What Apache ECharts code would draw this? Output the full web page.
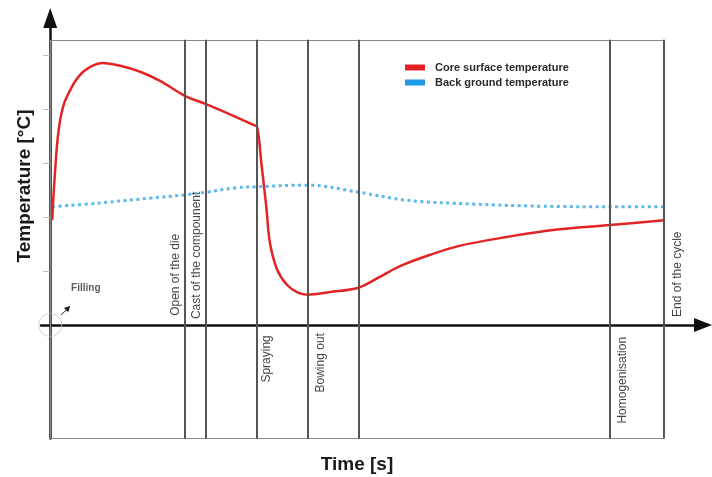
<!DOCTYPE html>
<html>
<head>
<meta charset="utf-8">
<script src="https://cdn.jsdelivr.net/npm/echarts@6/dist/echarts.min.js"></script>
<style>
  html, body { margin: 0; padding: 0; background: #fff; }
  #chart { width: 712px; height: 477px; }
</style>
</head>
<body>
<div id="chart"></div>
<script>
// core surface temperature (arbitrary units, 0 = time axis)
const coreTime = [0.33, 0.49, 0.81, 1.14, 1.63, 2.28, 3.26, 4.23, 5.37, 6.84, 8.47, 11.4, 14.66, 17.9,
  22.0, 25.4, 30.3, 33.0, 33.7, 34.4, 35.2, 35.8, 37.0, 38.6, 40.2, 41.9, 45.6, 50.2, 53.7, 57.0, 61.9,
  66.8, 74.4, 81.9, 91.2, 100]
const coreTemp = [1.94, 2.31, 2.87, 3.37, 3.80, 4.11, 4.35, 4.54, 4.69, 4.80, 4.85, 4.80, 4.69, 4.52,
  4.24, 4.09, 3.85, 3.71, 3.67, 3.00, 2.19, 1.52, 1.02, 0.74, 0.61, 0.56, 0.61, 0.69, 0.89, 1.09, 1.30,
  1.47, 1.63, 1.76, 1.85, 1.94]

// back ground temperature
const backTime = [0.33, 8.1, 16.3, 22.0, 25.4, 30.3, 33.7, 41.9, 50.2, 58.1, 68.9, 79.8, 91.7, 100]
const backTemp = [2.19, 2.26, 2.35, 2.41, 2.46, 2.54, 2.56, 2.59, 2.46, 2.31, 2.24, 2.20, 2.19, 2.19]

// cycle events (vertical lines)
const eventTimes = [22.0, 25.4, 33.6, 41.9, 50.2, 91.2, 100]
const eventNames = ['Open of the die', 'Cast of the compounent', 'Spraying', 'Bowing out', 'Homogenisation', 'End of the cycle']
const eventLabelTime = [20.5, 23.9, 35.2, 44.0, 93.2, 102.3]
const eventLabelTemp = [0.17, 0.11, -0.19, -0.15, -0.22, 0.15]

const yTicks = [1, 2, 3, 4, 5]
const boxTop = 5.28
const boxBottom = -2.1
const boxEnd = 100

const font = '"Liberation Sans", Arial, sans-serif'
const red = '#e32424'
const blue = '#1e9be6'

const chart = echarts.init(document.getElementById('chart'))

const eventLines = eventTimes.map(t => [
  { coord: [t, boxBottom] },
  { coord: [t, boxTop] }
])

chart.setOption({
  animation: false,
  textStyle: { fontFamily: font },
  grid: { left: 41, right: 9, top: 18, bottom: 38.6 },
  legend: {
    orient: 'vertical',
    left: 400,
    top: 57,
    icon: 'rect',
    itemWidth: 20,
    itemHeight: 6,
    itemGap: 4,
    textStyle: { fontFamily: font, fontSize: 11, fontWeight: 'bold', color: '#2a2a2a', padding: [0, 0, 0, 5] },
    data: [
      { name: 'Core surface temperature', itemStyle: { color: red } },
      { name: 'Back ground temperature', itemStyle: { color: blue } }
    ]
  },
  xAxis: {
    type: 'value',
    min: -1.5,
    max: 106.35,
    splitLine: { show: false },
    axisLabel: { show: false },
    axisTick: { show: false },
    axisLine: {
      onZero: true,
      symbol: ['none', 'triangle'],
      symbolSize: [14, 18],
      lineStyle: { color: '#111', width: 2.5 }
    }
  },
  yAxis: {
    type: 'value',
    min: boxBottom,
    max: 5.685,
    splitLine: { show: false },
    axisLabel: { show: false },
    axisTick: {
      show: true,
      customValues: yTicks,
      length: 7,
      lineStyle: { color: '#bbb', width: 1 }
    },
    axisLine: {
      onZero: true,
      symbol: ['none', 'triangle'],
      symbolSize: [14, 20],
      lineStyle: { color: '#111', width: 2.5 }
    }
  },
  graphic: [
    {
      type: 'text',
      x: 25,
      y: 186,
      rotation: Math.PI / 2,
      style: { text: 'Temperature [°C]', font: 'bold 19px ' + font, fill: '#1a1a1a', align: 'center', verticalAlign: 'middle' }
    },
    {
      type: 'text',
      x: 357,
      y: 465,
      style: { text: 'Time [s]', font: 'bold 19px ' + font, fill: '#1a1a1a', align: 'center', verticalAlign: 'middle' }
    }
  ],
  series: [
    {
      name: 'frame',
      type: 'scatter',
      silent: true,
      symbolSize: 1,
      itemStyle: { color: 'rgba(0,0,0,0)' },
      data: eventLabelTime.map((t, i) => ({
        name: eventNames[i],
        value: [t, eventLabelTemp[i]],
        label: { align: eventLabelTemp[i] > 0 ? 'left' : 'right' }
      })),
      label: {
        show: true,
        position: 'inside',
        rotate: 90,
        verticalAlign: 'middle',
        formatter: p => p.name,
        fontFamily: font,
        fontSize: 12,
        color: '#111'
      },
      markLine: {
        silent: true,
        symbol: 'none',
        label: { show: false },
        lineStyle: { type: 'solid' },
        data: [
          [{ coord: [0, boxTop], lineStyle: { color: '#888', width: 1.2 } }, { coord: [boxEnd, boxTop] }],
          [{ coord: [0, boxBottom], lineStyle: { color: '#888', width: 1.2 } }, { coord: [boxEnd, boxBottom] }],
          [{ coord: [0, boxBottom], lineStyle: { color: '#888', width: 1.2 } }, { coord: [0, boxTop] }]
        ].concat(eventLines.map(l => [Object.assign({ lineStyle: { color: '#555', width: 2 } }, l[0]), l[1]]))
      }
    },
    {
      name: 'notes',
      type: 'scatter',
      silent: true,
      data: [
        { name: 'origin', value: [0, 0], symbol: 'circle', symbolSize: 23,
          itemStyle: { color: 'rgba(0,0,0,0)', borderColor: '#c8c8c8', borderWidth: 1 } },
        { name: 'Filling', value: [3.4, 0.68], symbolSize: 1, itemStyle: { color: 'rgba(0,0,0,0)' },
          label: { show: true, position: 'inside', align: 'left', verticalAlign: 'middle', formatter: p => p.name,
            fontFamily: font, fontSize: 10, fontWeight: 'bold', color: '#333' } }
      ],
      markLine: {
        silent: true,
        symbol: ['none', 'triangle'],
        symbolSize: 6,
        label: { show: false },
        lineStyle: { color: '#222', width: 1, type: 'solid' },
        data: [[{ coord: [1.79, 0.185] }, { coord: [2.93, 0.315] }]]
      }
    },
    {
      name: 'Back ground temperature',
      type: 'line',
      showSymbol: false,
      smooth: 0.4,
      data: backTime.map((t, i) => [t, backTemp[i]]),
      itemStyle: { color: blue },
      lineStyle: { color: '#5cb8ec', width: 3, type: [3, 3.5] }
    },
    {
      name: 'Core surface temperature',
      type: 'line',
      showSymbol: false,
      smooth: 0.35,
      data: coreTime.map((t, i) => [t, coreTemp[i]]),
      itemStyle: { color: red },
      lineStyle: { color: red, width: 2.5 }
    }
  ]
})
</script>
</body>
</html>
